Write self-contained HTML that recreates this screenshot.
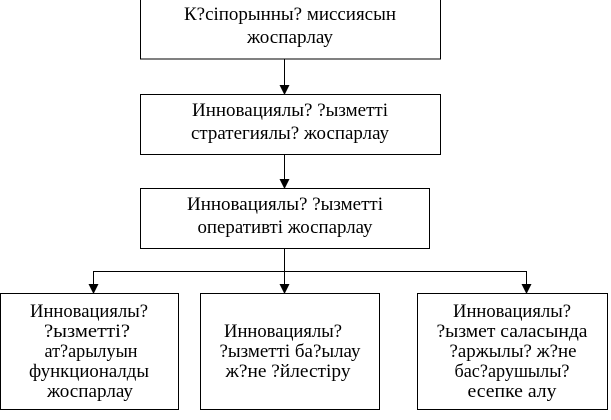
<!DOCTYPE html>
<html><head><meta charset="utf-8"><style>body{margin:0;background:#fff}svg{display:block}svg text{font-family:'Liberation Serif','DejaVu Serif','Times New Roman',serif;font-size:19px}</style></head>
<body>
<svg width="611" height="420" xmlns="http://www.w3.org/2000/svg" fill="#000" text-anchor="middle">
<g fill="none" stroke="#000" stroke-width="1">
<rect x="140.5" y="-1" width="300" height="60"/>
<rect x="140.5" y="94.5" width="300" height="60"/>
<rect x="140.5" y="188.5" width="289" height="60"/>
<rect x="0.5" y="293.5" width="178" height="116"/>
<rect x="200.5" y="293.5" width="179" height="116"/>
<rect x="417.5" y="293.5" width="190" height="116"/>
<line x1="284.5" y1="59" x2="284.5" y2="86"/>
<line x1="284.5" y1="154" x2="284.5" y2="180"/>
<line x1="284.5" y1="248" x2="284.5" y2="285"/>
<line x1="93.5" y1="271.5" x2="526.5" y2="271.5"/>
<line x1="93.5" y1="271" x2="93.5" y2="285"/>
<line x1="526.5" y1="271" x2="526.5" y2="285"/>
</g>
<g fill="#000">
<polygon points="279.5,85 289.5,85 284.5,95"/>
<polygon points="279.5,179 289.5,179 284.5,189"/>
<polygon points="279.5,284 289.5,284 284.5,294"/>
<polygon points="88.5,284 98.5,284 93.5,294"/>
<polygon points="521.5,284 531.5,284 526.5,294"/>
</g>
<text x="290" y="20" textLength="212" lengthAdjust="spacingAndGlyphs">К?сіпорынны? миссиясын</text>
<text x="290" y="43" textLength="86" lengthAdjust="spacingAndGlyphs">жоспарлау</text>
<text x="290" y="116" textLength="196" lengthAdjust="spacingAndGlyphs">Инновациялы? ?ызметті</text>
<text x="290" y="139" textLength="198" lengthAdjust="spacingAndGlyphs">стратегиялы? жоспарлау</text>
<text x="285" y="210" textLength="196" lengthAdjust="spacingAndGlyphs">Инновациялы? ?ызметті</text>
<text x="285" y="233" textLength="175" lengthAdjust="spacingAndGlyphs">оперативті жоспарлау</text>
<text x="89" y="317" textLength="118" lengthAdjust="spacingAndGlyphs">Инновациялы?</text>
<text x="87" y="337" textLength="86" lengthAdjust="spacingAndGlyphs">?ызметті?</text>
<text x="91" y="357" textLength="93" lengthAdjust="spacingAndGlyphs">ат?арылуын</text>
<text x="89" y="377" textLength="120" lengthAdjust="spacingAndGlyphs">функционалды</text>
<text x="90" y="397" textLength="86" lengthAdjust="spacingAndGlyphs">жоспарлау</text>
<text x="283" y="337" textLength="118" lengthAdjust="spacingAndGlyphs">Инновациялы?</text>
<text x="290" y="357" textLength="141" lengthAdjust="spacingAndGlyphs">?ызметті ба?ылау</text>
<text x="288" y="377" textLength="125" lengthAdjust="spacingAndGlyphs">ж?не ?йлестіру</text>
<text x="512" y="317" textLength="118" lengthAdjust="spacingAndGlyphs">Инновациялы?</text>
<text x="512" y="337" textLength="151" lengthAdjust="spacingAndGlyphs">?ызмет  саласында</text>
<text x="513" y="357" textLength="127" lengthAdjust="spacingAndGlyphs">?аржылы? ж?не</text>
<text x="512" y="377" textLength="115" lengthAdjust="spacingAndGlyphs">бас?арушылы?</text>
<text x="512" y="397" textLength="89" lengthAdjust="spacingAndGlyphs">есепке алу</text>
</svg>
</body></html>
